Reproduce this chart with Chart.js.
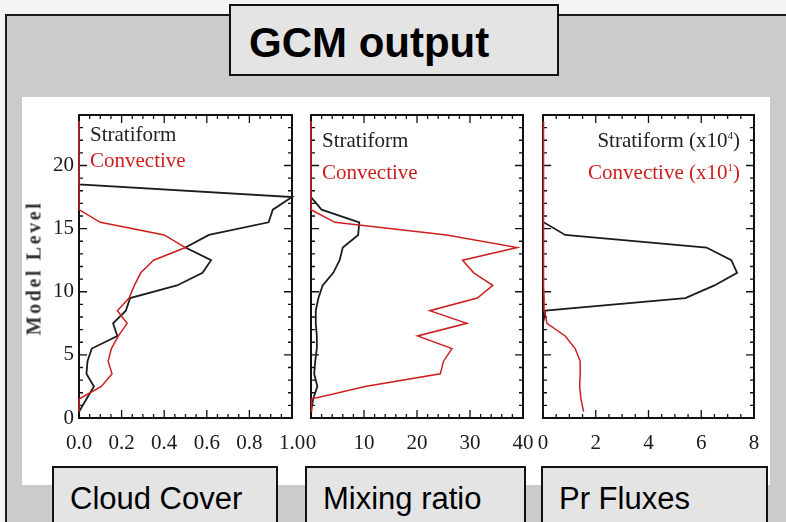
<!DOCTYPE html>
<html>
<head>
<meta charset="utf-8">
<title>GCM output</title>
<script src="https://cdn.jsdelivr.net/npm/chart.js@4/dist/chart.umd.min.js"></script>
<style>
  body {
    margin: 0;
    width: 786px;
    height: 522px;
    overflow: hidden;
    position: relative;
    background: #f4f4f4;
    font-family: "Liberation Sans", Arial, sans-serif;
  }
  .frame {
    position: absolute;
    left: 5px;
    top: 14px;
    width: 800px;
    height: 530px;
    background: #cbcbcb;
    border: 2px solid #1a1a1a;
    box-sizing: border-box;
  }
  .sheet {
    position: absolute;
    left: 22px;
    top: 97px;
    width: 748px;
    height: 388px;
    background: #fff;
  }
  canvas { position: absolute; top: 97px; }
  .box {
    position: absolute;
    background: #e4e4e4;
    border: 2px solid #111;
    box-sizing: border-box;
    color: #000;
    white-space: nowrap;
    z-index: 5;
  }
  .title { left: 229px; top: 4px; width: 330px; height: 72px; font-weight: bold; font-size: 42px; line-height: 74px; padding-left: 18px; }
  .tag { top: 466px; height: 70px; font-size: 31px; line-height: 62px; padding-left: 16px; }
  .legend {
    position: absolute;
    font-family: "Liberation Serif", serif;
    font-size: 21px;
    line-height: 21px;
    white-space: nowrap;
    z-index: 3;
  }
  .legend sup { font-size: 11px; vertical-align: 8px; line-height: 0; }
  .ytitle {
    position: absolute;
    left: 34px;
    top: 268px;
    transform: translate(-50%, -50%) rotate(-90deg);
    font-family: "Liberation Serif", serif;
    font-weight: bold;
    font-size: 20px;
    letter-spacing: 2.6px;
    color: #333;
    white-space: nowrap;
    z-index: 3;
  }
</style>
</head>
<body>
<div class="frame"></div>
<div class="sheet"></div>

<canvas id="cloudChart" width="313" height="388" style="left:19px"></canvas>
<canvas id="mixChart" width="312" height="388" style="left:251px"></canvas>
<canvas id="fluxChart" width="311" height="388" style="left:483px"></canvas>

<div class="ytitle">Model Level</div>

<div class="legend" style="left:90px;top:124px;color:#222">Stratiform</div>
<div class="legend" style="left:90px;top:150px;color:#cc2020">Convective</div>
<div class="legend" style="left:322px;top:130px;color:#222">Stratiform</div>
<div class="legend" style="left:322px;top:162px;color:#cc2020">Convective</div>
<div class="legend" style="right:46px;top:130px;color:#222">Stratiform (x10<sup>4</sup>)</div>
<div class="legend" style="right:46px;top:162px;color:#cc2020">Convective (x10<sup>1</sup>)</div>

<div class="box title">GCM output</div>
<div class="box tag" style="left:52px;width:226px">Cloud Cover</div>
<div class="box tag" style="left:305px;width:221px">Mixing ratio</div>
<div class="box tag" style="left:541px;width:227px">Pr Fluxes</div>

<script>
// =========================
// DONNÉES (niveaux 0.5 -> 23.5)
// =========================

const levels = [0.5, 1.5, 2.5, 3.5, 4.5, 5.5, 6.5, 7.5, 8.5, 9.5, 10.5, 11.5,
  12.5, 13.5, 14.5, 15.5, 16.5, 17.5, 18.5, 19.5, 20.5, 21.5, 22.5, 23.5];

const cloudStrat = [0.0, 0.035, 0.07, 0.035, 0.04, 0.06, 0.18, 0.16, 0.22, 0.24, 0.46, 0.58,
  0.62, 0.5, 0.61, 0.89, 0.91, 1.0, 0.0, 0, 0, 0, 0, 0];
const cloudConv = [0.0, 0.0, 0.105, 0.155, 0.137, 0.152, 0.185, 0.226, 0.18, 0.235, 0.26, 0.29,
  0.35, 0.5, 0.4, 0.1, 0.0, 0, 0, 0, 0, 0, 0, 0];

const mixStrat = [0, 0.4, 1.2, 0.6, 0.8, 1.1, 1.1, 0.9, 0.9, 1.4, 2.2, 4.2,
  5.4, 6.0, 8.9, 9.1, 2.0, 0, 0, 0, 0, 0, 0, 0];
const mixConv = [0, 0.1, 10.2, 24.4, 25.0, 26.6, 20.1, 29.4, 22.4, 31.4, 34.3, 30.7,
  28.6, 38.9, 25.6, 4.5, 0, 0, 0, 0, 0, 0, 0, 0];

const fluxStrat = [0, 0, 0, 0, 0, 0, 0, 0, 0.09, 5.4, 6.5, 7.36,
  7.14, 6.2, 0.84, 0.03, 0, 0, 0, 0, 0, 0, 0, 0];
const fluxConv = [1.54, 1.44, 1.39, 1.41, 1.41, 1.22, 0.84, 0.15, 0.06, 0.04, 0.02, 0.02,
  0.02, 0.02, 0.02, 0.02, 0.02, 0.02, 0.02, 0.02, 0.02, 0.02, 0.02, 0.02];

const cloudRange = [0, 1];
const mixRange = [0, 40];
const fluxRange = [0, 8];
const levelRange = [0, 24];

const xTitles = ["Cloud fraction", "Mixing ratio (1000x kg/kg)", "Precip. flux (mm day⁻¹)"];

const BLACK = "#1c1c1c";
const RED = "#cc2020";
const SERIF = "'Liberation Serif', 'Times New Roman', serif";

// =========================
// CADRE + GRADUATIONS FAÇON IDL
// =========================

const idlBox = {
  id: "idlBox",
  beforeDatasetsDraw(chart, args, opts) {
    const { ctx, chartArea: a } = chart;
    const sx = chart.scales.x;
    const sy = chart.scales.y;

    ctx.save();
    ctx.strokeStyle = "#111";
    ctx.lineWidth = 2;
    ctx.strokeRect(a.left, a.top, a.right - a.left, a.bottom - a.top);

    ctx.lineWidth = 1.3;
    ctx.beginPath();

    const nx = Math.round((sx.max - sx.min) / opts.xMinor);
    for (let i = 1; i < nx; i++) {
      const v = sx.min + i * opts.xMinor;
      const major = Math.abs(v / opts.xMajor - Math.round(v / opts.xMajor)) < 1e-6;
      const len = major ? 8 : 4;
      const px = sx.getPixelForValue(v);
      ctx.moveTo(px, a.bottom);
      ctx.lineTo(px, a.bottom - len);
      ctx.moveTo(px, a.top);
      ctx.lineTo(px, a.top + len);
    }

    const ny = Math.round((sy.max - sy.min) / opts.yMinor);
    for (let i = 1; i < ny; i++) {
      const v = sy.min + i * opts.yMinor;
      const major = v % opts.yMajor === 0;
      const len = major ? 8 : 4;
      const py = sy.getPixelForValue(v);
      ctx.moveTo(a.left, py);
      ctx.lineTo(a.left + len, py);
      ctx.moveTo(a.right, py);
      ctx.lineTo(a.right - len, py);
    }

    ctx.stroke();
    ctx.restore();
  },
};

function toPoints(values) {
  return values.map((v, i) => ({ x: v, y: levels[i] }));
}

function makeProfile(id, strat, conv, cfg) {
  const ctx = document.getElementById(id).getContext("2d");

  return new Chart(ctx, {
    type: "scatter",
    data: {
      datasets: [
        {
          label: "Stratiform",
          data: toPoints(strat),
          showLine: true,
          borderColor: BLACK,
          borderWidth: 1.8,
          pointRadius: 0,
          clip: false,
          order: 1,
        },
        {
          label: "Convective",
          data: toPoints(conv),
          showLine: true,
          borderColor: RED,
          borderWidth: 1.5,
          pointRadius: 0,
          clip: false,
          order: 0,
        },
      ],
    },
    options: {
      responsive: false,
      animation: false,
      events: [],
      layout: { padding: { left: 0, right: 40, top: 18, bottom: 0 } },
      plugins: {
        legend: { display: false },
        tooltip: { enabled: false },
        idlBox: { xMinor: cfg.xMinor, xMajor: cfg.step, yMinor: 1, yMajor: 5 },
      },
      scales: {
        x: {
          type: "linear",
          min: cfg.range[0],
          max: cfg.range[1],
          grid: { display: false, drawTicks: false },
          border: { display: false },
          ticks: {
            stepSize: cfg.step,
            includeBounds: false,
            autoSkip: false,
            maxRotation: 0,
            padding: 13,
            color: "#1a1a1a",
            font: { family: SERIF, size: 21 },
            callback: cfg.format,
          },
          title: {
            display: true,
            text: cfg.title,
            color: "#222",
            font: { family: SERIF, size: 21 },
            padding: { top: 0, bottom: -7 },
          },
          afterFit(s) {
            s.height = 67;
            s.paddingLeft = 0;
            s.paddingRight = 0;
          },
        },
        y: {
          type: "linear",
          min: levelRange[0],
          max: levelRange[1],
          grid: { display: false, drawTicks: false },
          border: { display: false },
          ticks: {
            display: cfg.showY,
            stepSize: 5,
            includeBounds: false,
            padding: 5,
            color: "#1a1a1a",
            font: { family: SERIF, size: 21 },
          },
          afterFit(s) {
            s.width = 60;
            s.paddingTop = 0;
            s.paddingBottom = 0;
          },
        },
      },
    },
    plugins: [idlBox],
  });
}

makeProfile("cloudChart", cloudStrat, cloudConv, {
  range: cloudRange, step: 0.2, xMinor: 0.05, showY: true,
  title: xTitles[0], format: (v) => v.toFixed(1),
});

makeProfile("mixChart", mixStrat, mixConv, {
  range: mixRange, step: 10, xMinor: 2, showY: false,
  title: xTitles[1], format: (v) => String(v),
});

makeProfile("fluxChart", fluxStrat, fluxConv, {
  range: fluxRange, step: 2, xMinor: 0.5, showY: false,
  title: xTitles[2], format: (v) => String(v),
});
</script>
</body>
</html>
